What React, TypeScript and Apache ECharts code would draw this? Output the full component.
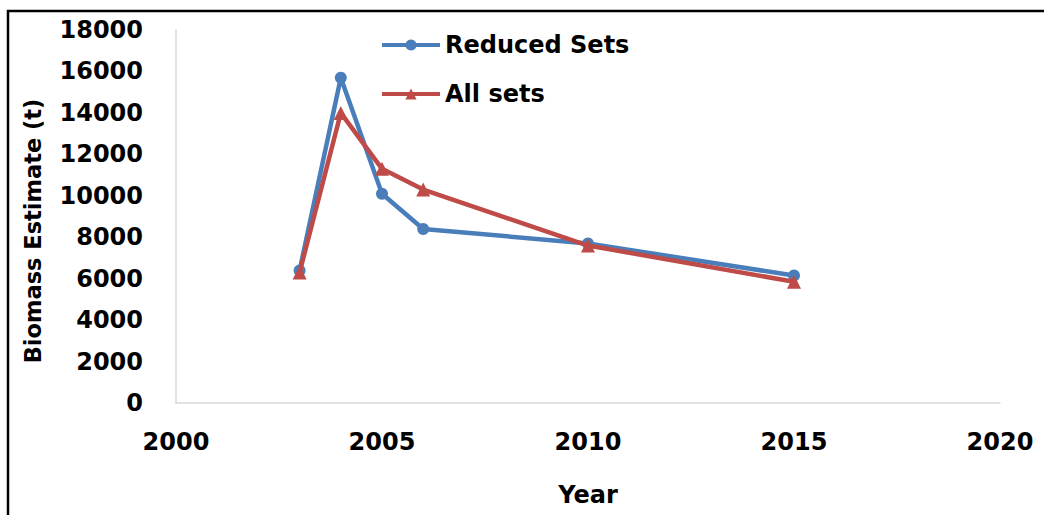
import React, { useEffect, useRef } from "react";
import * as echarts from "echarts";

// Survey years and biomass estimates (tonnes)
const years = [2003, 2004, 2005, 2006, 2010, 2015];
const reducedSets = [6400, 15700, 10100, 8400, 7700, 6150];
const allSets = [6300, 14000, 11300, 10300, 7600, 5850];

const seriesNames = ["Reduced Sets", "All sets"];
const xTitle = "Year";
const yTitle = "Biomass Estimate (t)";

const FONT = "DejaVu Sans";

export default function App() {
  const ref = useRef<HTMLDivElement>(null);

  useEffect(() => {
    if (!ref.current) return;
    const chart = echarts.init(ref.current, undefined, { renderer: "svg" });
    const toPairs = (vals: number[]) => years.map((y, i) => [y, vals[i]]);
    const plain = (v: number) => String(v);

    chart.setOption({
      animation: false,
      backgroundColor: "#ffffff",
      textStyle: { fontFamily: FONT },
      grid: { left: 176, right: 44, top: 30, bottom: 112 },
      legend: {
        orient: "vertical",
        left: 375,
        top: 28,
        itemWidth: 58,
        itemHeight: 14,
        itemGap: 25,
        lineStyle: { width: 4 },
        textStyle: { fontFamily: FONT, fontWeight: "bold", fontSize: 24, color: "#000" },
        data: seriesNames,
      },
      xAxis: {
        type: "value",
        min: 2000,
        max: 2020,
        interval: 5,
        name: xTitle,
        nameLocation: "middle",
        nameGap: 80,
        nameTextStyle: { fontFamily: FONT, fontWeight: "bold", fontSize: 24, color: "#000" },
        axisLine: { show: true, lineStyle: { color: "#d9d9d9", width: 1.5 } },
        axisTick: { show: false },
        splitLine: { show: false },
        axisLabel: { formatter: plain, fontFamily: FONT, fontWeight: "bold", fontSize: 24, color: "#000", margin: 27 },
      },
      yAxis: {
        type: "value",
        min: 0,
        max: 18000,
        interval: 2000,
        axisLine: { show: true, lineStyle: { color: "#d9d9d9", width: 1.5 } },
        axisTick: { show: false },
        splitLine: { show: false },
        axisLabel: { formatter: plain, fontFamily: FONT, fontWeight: "bold", fontSize: 24, color: "#000", margin: 33 },
      },
      series: [
        {
          name: seriesNames[0],
          type: "line",
          data: toPairs(reducedSets),
          symbol: "circle",
          symbolSize: 12,
          color: "#4a7ebb",
          lineStyle: { width: 4.5, color: "#4a7ebb" },
          itemStyle: { color: "#4a7ebb" },
          z: 2,
        },
        {
          name: seriesNames[1],
          type: "line",
          data: toPairs(allSets),
          symbol: "triangle",
          symbolSize: 14,
          color: "#be4b48",
          lineStyle: { width: 4.5, color: "#be4b48" },
          itemStyle: { color: "#be4b48" },
          z: 3,
        },
      ],
      graphic: [
        {
          type: "text",
          x: 33,
          y: 231,
          rotation: Math.PI / 2,
          style: {
            text: yTitle,
            fontFamily: FONT,
            fontWeight: "bold",
            fontSize: 22.5,
            fill: "#000",
            align: "center",
            verticalAlign: "middle",
          },
          silent: true,
        },
        {
          type: "rect",
          shape: { x: 8, y: 11, width: 1200, height: 700 },
          style: { fill: "none", stroke: "#000", lineWidth: 2.5 },
          silent: true,
        },
      ],
    });

    return () => chart.dispose();
  }, []);

  return (
    <div
      ref={ref}
      style={{ position: "fixed", left: 0, top: 0, width: 1044, height: 515 }}
    />
  );
}
